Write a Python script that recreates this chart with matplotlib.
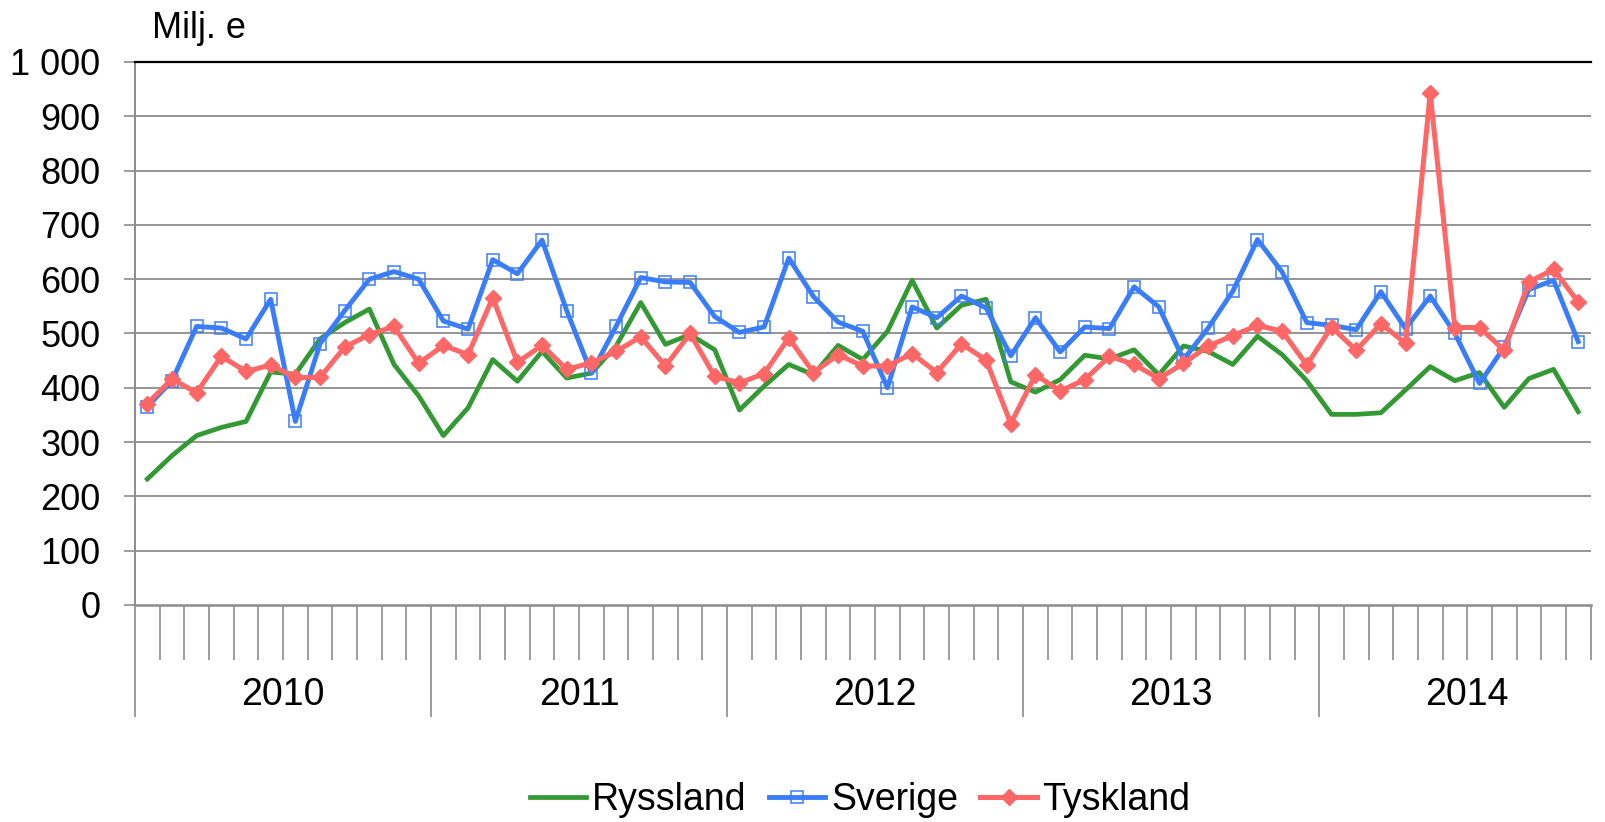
import matplotlib
matplotlib.use("Agg")
import matplotlib.pyplot as plt
from matplotlib.ticker import FixedLocator, NullFormatter
import numpy as np

plt.rcParams['font.family'] = ['Liberation Sans', 'DejaVu Sans']

# Monthly values, Jan 2010 - Nov 2014 (Milj. e)
years = ["2010", "2011", "2012", "2013", "2014"]

ryssland = [232, 275, 312, 327, 338, 429, 425, 490, 520, 545, 443, 385,
            312, 363, 452, 412, 467, 418, 427, 477, 557, 480, 498, 470,
            359, 403, 443, 424, 478, 452, 504, 598, 510, 552, 563, 411,
            392, 415, 460, 453, 470, 424, 477, 467, 443, 495, 461, 413,
            351, 351, 354, 396, 439, 413, 428, 364, 417, 434, 356]

sverige = [365, 413, 513, 510, 490, 563, 338, 481, 542, 600, 614, 600,
           523, 508, 636, 610, 672, 542, 427, 513, 603, 595, 594, 531,
           502, 512, 639, 568, 521, 504, 400, 549, 529, 569, 547, 459,
           529, 466, 512, 509, 586, 549, 452, 510, 578, 673, 613, 520,
           515, 507, 577, 509, 569, 500, 408, 475, 581, 598, 485]

tyskland = [371, 416, 391, 458, 430, 442, 419, 419, 475, 498, 513, 445,
            478, 461, 566, 447, 478, 434, 446, 467, 494, 440, 500, 421,
            409, 426, 492, 428, 461, 440, 440, 463, 428, 481, 451, 334,
            424, 394, 415, 458, 443, 417, 445, 477, 496, 515, 504, 442,
            512, 469, 518, 482, 942, 511, 511, 469, 595, 618, 558]

green = '#339933'
blue = '#3a7dfa'
red = '#ff6666'
grey = '#8c8c8c'

n = len(ryssland)
x = np.arange(n) + 0.5

fig = plt.figure(figsize=(16.05, 8.22), dpi=100)
ax = fig.add_axes([0.0841, 0.264, 0.991 - 0.0841, 0.9246 - 0.264])

ax.plot(x, ryssland, color=green, lw=3.4, label="Ryssland", zorder=3)
ax.plot(x, sverige, color=blue, lw=3.5, marker='s', ms=9, mfc='none',
        mec=blue, mew=1.1, label="Sverige", zorder=4)
ax.plot(x, tyskland, color=red, lw=3.6, marker='D', ms=8.5, mfc=red,
        mec=red, label="Tyskland", zorder=5)

ax.set_xlim(0, n)
ax.set_ylim(0, 1000)

# y axis
ax.set_yticks(np.arange(0, 1001, 100))
ax.set_yticklabels(["0", "100", "200", "300", "400", "500", "600", "700",
                    "800", "900", "1 000"])
ax.tick_params(axis='y', direction='out', length=8, width=1.2, color=grey,
               labelsize=26, pad=17)
for v in range(100, 1000, 100):
    ax.axhline(v, color=grey, lw=1.3, zorder=1)

# x axis: month ticks and longer year ticks
year_starts = list(range(0, n, 12))
month_ticks = [i for i in range(1, n + 1) if i not in year_starts]
ax.xaxis.set_major_locator(FixedLocator(year_starts))
ax.xaxis.set_minor_locator(FixedLocator(month_ticks))
ax.xaxis.set_major_formatter(NullFormatter())
ax.tick_params(axis='x', which='major', direction='out', length=80.6,
               width=1.2, color=grey)
ax.tick_params(axis='x', which='minor', direction='out', length=39.6,
               width=1.2, color=grey)

for k, yr in enumerate(years):
    ax.text(12 * k + 6, -0.166, yr, transform=ax.get_xaxis_transform(),
            ha='center', va='center', fontsize=27)

ax.spines['right'].set_visible(False)
ax.spines['top'].set_color('black')
ax.spines['top'].set_linewidth(1.6)
ax.spines['left'].set_color(grey)
ax.spines['left'].set_linewidth(1.4)
ax.spines['bottom'].set_color(grey)
ax.spines['bottom'].set_linewidth(1.8)

fig.text(152 / 1605, 1 - 38 / 822, "Milj. e", fontsize=26, va='baseline',
         ha='left')

fig.legend(loc='center', bbox_to_anchor=(0.536, 1 - 800 / 822), ncol=3,
           frameon=False, fontsize=27, handlelength=1.5, handletextpad=0.15,
           columnspacing=0.6, borderaxespad=0, borderpad=0)

fig.savefig("out.png", dpi=100)
